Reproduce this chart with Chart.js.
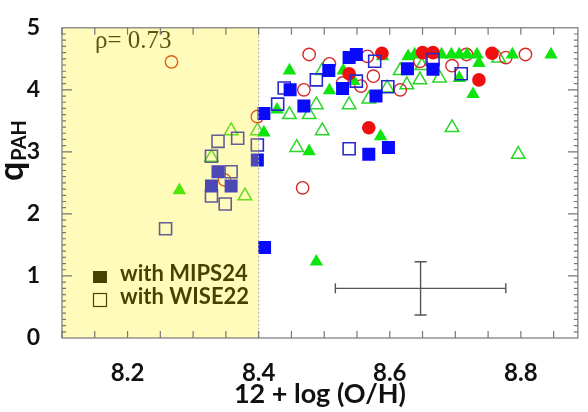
<!DOCTYPE html>
<html lang="en">
<head>
<meta charset="UTF-8">
<title>q_PAH vs 12 + log (O/H)</title>
<style>
  html, body { margin: 0; padding: 0; background: #fff; }
  #wrap { width: 588px; height: 412px; }
</style>
</head>
<body>
<div id="wrap"><canvas id="qpahChart" width="588" height="412"></canvas></div>
<script src="https://cdn.jsdelivr.net/npm/chart.js@4.4.0/dist/chart.umd.min.js"></script>
<script>
// metallicity (x) and q_PAH (y) per sample
var mipsX = [8.538, 8.549, 8.507, 8.448, 8.528, 8.469, 8.408, 8.398, 8.568, 8.598, 8.579, 8.627, 8.666, 8.409, 8.338, 8.328, 8.358];
var mipsY = [4.52, 4.57, 4.31, 4.00, 4.02, 3.74, 3.62, 2.87, 2.96, 3.07, 3.90, 4.34, 4.33, 1.46, 2.68, 2.45, 2.45];

var wiseX = [8.577, 8.666, 8.488, 8.439, 8.549, 8.597, 8.709, 8.429, 8.398, 8.538, 8.338, 8.368, 8.328, 8.358, 8.328, 8.349, 8.258];
var wiseY = [4.46, 4.49, 4.16, 4.03, 4.14, 4.05, 4.26, 3.77, 3.11, 3.05, 3.17, 3.22, 2.93, 2.68, 2.29, 2.16, 1.76];

var redFullX = [8.588, 8.650, 8.666, 8.538, 8.756, 8.736, 8.568];
var redFullY = [4.59, 4.60, 4.60, 4.26, 4.59, 4.16, 3.39];

var redOpenX = [8.267, 8.477, 8.508, 8.528, 8.556, 8.469, 8.398, 8.566, 8.646, 8.575, 8.616, 8.695, 8.717, 8.777, 8.807, 8.467, 8.348];
var redOpenY = [4.45, 4.57, 4.42, 4.11, 4.06, 4.00, 3.57, 4.54, 4.46, 4.22, 4.00, 4.39, 4.57, 4.52, 4.57, 2.42, 2.55];

var greenFullX = [8.447, 8.529, 8.589, 8.508, 8.545, 8.428, 8.408, 8.477, 8.586, 8.628, 8.638, 8.679, 8.694, 8.706, 8.718, 8.733, 8.736, 8.706, 8.727, 8.787, 8.846, 8.279, 8.488];
var greenFullY = [4.31, 4.31, 4.54, 3.99, 4.14, 3.68, 3.31, 3.01, 3.25, 4.54, 4.57, 4.57, 4.57, 4.57, 4.57, 4.57, 4.43, 4.19, 3.93, 4.57, 4.57, 2.38, 1.23];

var greenOpenX = [8.497, 8.616, 8.649, 8.676, 8.646, 8.766, 8.596, 8.626, 8.568, 8.488, 8.447, 8.477, 8.538, 8.398, 8.497, 8.458, 8.695, 8.796, 8.358, 8.328, 8.379];
var greenOpenY = [4.31, 4.31, 4.39, 4.19, 4.16, 4.51, 4.03, 4.08, 3.85, 3.76, 3.60, 3.60, 3.76, 3.34, 3.34, 3.07, 3.39, 2.96, 3.34, 2.91, 2.29];

// typical uncertainty shown as a cross
var errCenter = [8.647, 0.80];
var errHalf = [0.13, 0.43];

var xTicks = [8.2, 8.4, 8.6, 8.8];
var yTicks = [0, 1, 2, 3, 4, 5];
var lowZ = 8.4;
var rhoText = 'ρ= 0.73';
var legendLabels = ['with MIPS24', 'with WISE22'];

function pts(xs, ys) {
    return xs.map(function(x, i) { return { x: x, y: ys[i] }; });
}

var BLUE = 'rgb(10,10,250)';
var RED = 'rgb(240,15,15)';
var GREEN = 'rgb(15,228,15)';

var decor = {
    id: 'decor',
    afterDatasetsDraw: function(chart) {
        var ctx = chart.ctx;
        var xs = chart.scales.x, ys = chart.scales.y;
        var a = chart.chartArea;
        ctx.save();

        // error cross
        ctx.strokeStyle = '#555';
        ctx.lineWidth = 1.4;
        var cx = xs.getPixelForValue(errCenter[0]);
        var cy = ys.getPixelForValue(errCenter[1]);
        var x0 = xs.getPixelForValue(errCenter[0] - errHalf[0]);
        var x1 = xs.getPixelForValue(errCenter[0] + errHalf[0]);
        var y0 = ys.getPixelForValue(errCenter[1] - errHalf[1]);
        var y1 = ys.getPixelForValue(errCenter[1] + errHalf[1]);
        ctx.beginPath();
        ctx.moveTo(x0, cy); ctx.lineTo(x1, cy);
        ctx.moveTo(x0, cy - 5); ctx.lineTo(x0, cy + 5);
        ctx.moveTo(x1, cy - 5); ctx.lineTo(x1, cy + 5);
        ctx.moveTo(cx, y0); ctx.lineTo(cx, y1);
        ctx.moveTo(cx - 6, y0); ctx.lineTo(cx + 6, y0);
        ctx.moveTo(cx - 6, y1); ctx.lineTo(cx + 6, y1);
        ctx.stroke();

        // correlation coefficient
        ctx.fillStyle = '#1a1a1a';
        ctx.font = '25px "Liberation Serif"';
        ctx.textAlign = 'left';
        ctx.textBaseline = 'alphabetic';
        ctx.fillText(rhoText, a.left + 33, 48);

        // legend box
        ctx.font = 'bold 22px Lato';
        ctx.fillStyle = '#000';
        ctx.fillRect(a.left + 31, 271, 14, 12);
        ctx.strokeStyle = '#000';
        ctx.lineWidth = 1.2;
        ctx.strokeRect(a.left + 31.5, 293.5, 13, 13);
        ctx.fillText(legendLabels[0], a.left + 58, 281);
        ctx.fillText(legendLabels[1], a.left + 58, 304);

        // low-metallicity shading
        var xl = xs.getPixelForValue(lowZ);
        ctx.fillStyle = 'rgba(255,240,0,0.27)';
        ctx.fillRect(a.left, a.top, xl - a.left, a.bottom - a.top);
        ctx.strokeStyle = '#aaa';
        ctx.lineWidth = 1;
        ctx.setLineDash([2, 2]);
        ctx.beginPath();
        ctx.moveTo(xl, a.top); ctx.lineTo(xl, a.bottom);
        ctx.stroke();
        ctx.setLineDash([]);

        // frame
        ctx.strokeStyle = '#777';
        ctx.lineWidth = 1.2;
        ctx.strokeRect(a.left, a.top, a.right - a.left, a.bottom - a.top);

        // tick marks on all four sides
        ctx.beginPath();
        for (var v = 8.1; v < xs.max; v += 0.05) {
            var px = xs.getPixelForValue(v);
            ctx.moveTo(px, a.bottom); ctx.lineTo(px, a.bottom - 7);
            ctx.moveTo(px, a.top); ctx.lineTo(px, a.top + 7);
        }
        for (var k = 1; k < 50; k++) {
            var py = ys.getPixelForValue(k / 10);
            var len = (k % 10 === 0) ? 10 : 4;
            ctx.moveTo(a.left, py); ctx.lineTo(a.left + len, py);
            ctx.moveTo(a.right, py); ctx.lineTo(a.right - len, py);
        }
        ctx.stroke();

        // axis titles
        ctx.fillStyle = '#111';
        ctx.font = 'bold 27px Lato';
        ctx.textAlign = 'center';
        ctx.fillText('12 + log (O/H)', (a.left + a.right) / 2, 403);

        ctx.translate(23, 181);
        ctx.rotate(-Math.PI / 2);
        ctx.textAlign = 'left';
        ctx.font = 'bold 34px Lato';
        ctx.fillText('q', 0, 0);
        var qw = ctx.measureText('q').width;
        ctx.font = 'bold 20px Lato';
        ctx.fillText('PAH', qw + 1, 3);
        ctx.restore();
    }
};

function series(data, style, radius, fill, stroke, bw) {
    return {
        data: data,
        pointStyle: style,
        pointRadius: radius,
        pointHoverRadius: radius,
        backgroundColor: fill,
        borderColor: stroke,
        borderWidth: bw,
        showLine: false
    };
}

new Chart(document.getElementById('qpahChart'), {
    type: 'scatter',
    data: {
        datasets: [
            series(pts(mipsX, mipsY), 'rect', 9.2, BLUE, BLUE, 0),
            series(pts(wiseX, wiseY), 'rect', 8.5, 'rgba(0,0,0,0)', 'rgb(40,40,205)', 1.6),
            series(pts(redFullX, redFullY), 'circle', 6.8, RED, RED, 0),
            series(pts(greenFullX, greenFullY), 'triangle', 7.8, GREEN, GREEN, 0),
            series(pts(redOpenX, redOpenY), 'circle', 6.2, 'rgba(0,0,0,0)', 'rgb(215,40,40)', 1.4),
            series(pts(greenOpenX, greenOpenY), 'triangle', 7.8, 'rgba(0,0,0,0)', 'rgb(40,215,40)', 1.5)
        ]
    },
    options: {
        responsive: false,
        animation: false,
        devicePixelRatio: 1,
        layout: { padding: { top: 12, right: 3, left: 0, bottom: 0 } },
        plugins: { legend: { display: false }, tooltip: { enabled: false } },
        scales: {
            x: {
                type: 'linear',
                min: 8.1,
                max: 8.887,
                grid: { display: false },
                border: { display: false },
                afterBuildTicks: function(s) { s.ticks = xTicks.map(function(v) { return { value: v }; }); },
                afterFit: function(s) { s.height = 74; },
                ticks: {
                    padding: 13,
                    color: '#111',
                    font: { family: 'Lato', weight: 'bold', size: 24 },
                    callback: function(v) { return v.toFixed(1); }
                }
            },
            y: {
                type: 'linear',
                min: 0,
                max: 5,
                grid: { display: false },
                border: { display: false },
                afterBuildTicks: function(s) { s.ticks = yTicks.map(function(v) { return { value: v }; }); },
                afterFit: function(s) { s.width = 62; },
                ticks: {
                    padding: 14,
                    color: '#111',
                    font: { family: 'Lato', weight: 'bold', size: 23 }
                }
            }
        }
    },
    plugins: [decor]
});
</script>
</body>
</html>
